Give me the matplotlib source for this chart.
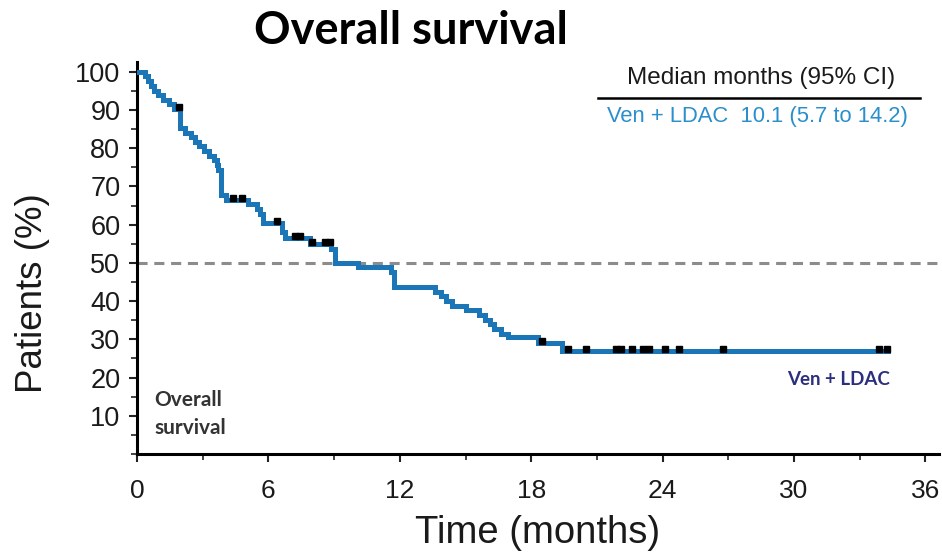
import numpy as np
import matplotlib
matplotlib.use("Agg")
import matplotlib.pyplot as plt
from matplotlib.ticker import MultipleLocator

# Kaplan-Meier estimate for Ven + LDAC (months, % alive after each event)
event_times = [0, 0.35, 0.5, 0.62, 0.78, 0.95, 1.2, 1.45, 1.7, 1.98, 2.2, 2.45,
               2.65, 2.85, 3.05, 3.3, 3.5, 3.65, 3.72, 3.82, 4.05, 5.05, 5.5,
               5.6, 5.75, 6.6, 6.75, 7.9, 8.85, 9.05, 10.1, 11.6, 11.75, 13.6,
               13.9, 14.1, 14.4, 15.0, 15.6, 15.9, 16.1, 16.3, 16.6, 16.95,
               18.3, 19.4]
survival = [100, 98.8, 97.6, 96.3, 95.1, 93.9, 92.7, 91.5, 90.2, 85.4, 84.1,
            82.9, 81.7, 80.5, 79.3, 78.0, 76.8, 75.6, 74.4, 67.7, 66.5, 65.3,
            64.0, 62.8, 60.4, 58.0, 56.5, 54.9, 53.7, 50.0, 48.8, 47.5, 43.8,
            42.5, 41.3, 40.0, 38.8, 37.6, 36.4, 35.1, 33.9, 32.6, 31.4, 30.6,
            29.0, 26.9]
last_followup = 34.3

# Censored observations (months)
censor_times = [1.9, 4.4, 4.8, 6.4, 7.2, 7.45, 8.0, 8.6, 8.8, 18.5, 19.7,
                20.5, 21.85, 22.1, 22.6, 23.1, 23.4, 24.1, 24.75, 26.75,
                33.9, 34.25]

median_text = "Ven + LDAC  10.1 (5.7 to 14.2)"
x_ticks = [0, 6, 12, 18, 24, 30, 36]
y_ticks = [10, 20, 30, 40, 50, 60, 70, 80, 90, 100]

curve_color = "#1a76b6"
sans = ["Liberation Sans", "DejaVu Sans"]
label_font = ["Lato", "DejaVu Sans"]

fig = plt.figure(figsize=(9.42, 5.58), dpi=100)
ax = fig.add_axes([0.1454, 0.1864, 0.851, 0.702])

t = np.array(event_times + [last_followup])
s = np.array(survival + [survival[-1]])
ax.step(t, s, where="post", color=curve_color, lw=3.6, solid_joinstyle="miter",
        zorder=3)

ct = np.array(censor_times)
idx = np.searchsorted(np.array(event_times), ct, side="right") - 1
cs = np.array(survival)[idx]
ax.plot(ct, cs + 0.6, ls="none", marker="s", ms=4.8, color="black", zorder=4)

ax.axhline(50, color="#8c8c8c", lw=2.2, dashes=(3.3, 2.2), zorder=2)

ax.set_xlim(0, 36.6)
ax.set_ylim(0, 102.5)
ax.set_xticks(x_ticks)
ax.set_yticks(y_ticks)
ax.xaxis.set_minor_locator(MultipleLocator(3))
ax.yaxis.set_minor_locator(MultipleLocator(5))

for side in ("top", "right"):
    ax.spines[side].set_visible(False)
for side in ("left", "bottom"):
    ax.spines[side].set_linewidth(2.2)
    ax.spines[side].set_color("black")

ax.tick_params(which="major", length=6, width=1.5, color="#222222")
ax.tick_params(which="minor", length=4, width=1.2, color="#222222")
ax.tick_params(axis="x", which="major", pad=12)
ax.tick_params(axis="y", which="major", pad=6)

for lab in ax.get_xticklabels():
    lab.set_family(sans)
    lab.set_fontsize(19)
    lab.set_color("#1a1a1a")
for lab in ax.get_yticklabels():
    lab.set_family(sans)
    lab.set_fontsize(19.5)
    lab.set_color("#1a1a1a")

ax.set_xlabel("Time (months)", family=sans, fontsize=27.5, color="#1a1a1a",
              labelpad=9)
ax.set_ylabel("Patients (%)", family=sans, fontsize=26.5, color="#1a1a1a")
ax.yaxis.set_label_coords(-0.108, 0.41)

fig.text(0.4365, 0.945, "Overall survival", ha="center", va="center",
         family=label_font, fontweight="bold", fontsize=32.5, color="black")

# Median summary box
fig.text(0.808, 0.86, "Median months (95% CI)", ha="center", va="center",
         family=sans, fontsize=17.5, color="#1a1a1a")
fig.add_artist(plt.Line2D([598 / 942, 920 / 942], [1 - 98 / 558, 1 - 98 / 558],
                          color="black", lw=1.8))
fig.text(0.804, 0.792, median_text, ha="center", va="center",
         family=sans, fontsize=15.8, color="#2a8fcc")

ax.text(0.022, 0.102, "Overall\nsurvival", transform=ax.transAxes, ha="left",
        va="center", family=label_font, fontweight="bold",
        fontsize=15, color="#333333", linespacing=1.55)
ax.text(34.4, 19.5, "Ven + LDAC", ha="right", va="center",
        family=label_font, fontweight="bold", fontsize=13.5,
        color="#2b2f7e")

fig.savefig("out.png", dpi=100)
